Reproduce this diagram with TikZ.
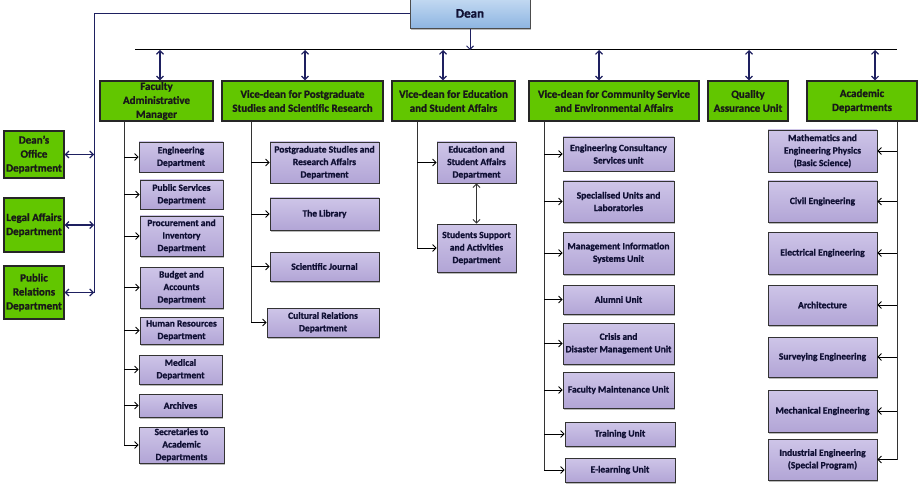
\documentclass[tikz,border=0pt]{standalone}
\usepackage{fontspec}
\setmainfont{Carlito}[BoldFeatures={FakeBold=1.2}]
\usetikzlibrary{arrows.meta,shadows}
\definecolor{gfill}{RGB}{98,198,0}
\definecolor{ptop}{RGB}{206,197,232}
\definecolor{pbot}{RGB}{178,165,214}
\definecolor{dtop}{RGB}{196,218,242}
\definecolor{dbot}{RGB}{140,180,225}
\definecolor{navy}{RGB}{30,32,96}
\definecolor{ntext}{RGB}{16,16,52}
\newcommand\bx[7]{\node[#6, minimum width={(#4-#2)*1pt}, minimum height={(#5-#3)*1pt}] (#1) at ({(#2+#4)/2},{(#3+#5)/2}) {#7};}
\begin{document}
\begin{tikzpicture}[x=1pt,y=-1pt,
  gbox/.style={draw=black!85, line width=1.4pt, fill=gfill, text=black!90, font=\bfseries\fontsize{11}{14}\selectfont, align=center, inner sep=0pt},
  pbox/.style={draw=black!80, line width=0.8pt, top color=ptop, bottom color=pbot, text=ntext, font=\bfseries\fontsize{9.5}{12.5}\selectfont, align=center, inner sep=0pt, drop shadow={shadow xshift=1.2pt, shadow yshift=-1.5pt, fill=black!45, opacity=0.6}},
  deanbox/.style={draw=black!70, line width=1pt, top color=dtop, bottom color=dbot, text=ntext, font=\bfseries\fontsize{13}{15}\selectfont, inner sep=0pt, drop shadow={shadow xshift=1.2pt, shadow yshift=-1.5pt, fill=black!45, opacity=0.6}},
  trunk/.style={draw=black!80, line width=0.9pt},
  carrow/.style={draw=black, line width=0.8pt, -{Straight Barb[length=3.5pt,width=7pt]}},
  dbl/.style={draw=navy, line width=1.1pt, {Straight Barb[length=3.5pt,width=7pt]}-{Straight Barb[length=3.5pt,width=7pt]}},
  navyline/.style={draw=navy, line width=0.9pt}]
\useasboundingbox (0,0) rectangle (919,484);
% Dean
\bx{dean}{410}{-2}{530}{29}{deanbox}{Dean}
% bus
\coordinate (busL) at (135,50);
\coordinate (busR) at (897,50);
\draw[line width=1pt] (busL) -- (busR);
\draw[draw=navy, line width=1pt, -{Straight Barb[length=3.5pt,width=7pt]}] (dean.south) -- (dean.south |- busL);
% left boxes
\bx{dof}{4}{131}{64}{178}{gbox}{Dean’s\\Office\\Department}
\bx{leg}{4}{198}{64}{252}{gbox}{\makebox[0pt]{Legal Affairs}\\Department}
\bx{pr}{4}{266}{64}{319}{gbox}{Public\\Relations\\Department}
\coordinate (lv) at (94,0);
\draw[navyline] (dean.west) -| (pr.east -| lv);
\draw[dbl] (dof.east) -- (dof.east -| lv);
\draw[dbl] (leg.east) -- (leg.east -| lv);
\draw[dbl] (pr.east) -- (pr.east -| lv);
% green top boxes
\bx{fam}{100}{81}{213}{121}{gbox}{Faculty\\Administrative\\Manager}
\bx{vpg}{222}{81}{383}{121}{gbox}{Vice-dean for Postgraduate\\Studies and Scientific Research}
\bx{ved}{392}{81}{515}{121}{gbox}{Vice-dean for Education\\and Student Affairs}
\bx{vcs}{529}{81}{699}{121}{gbox}{Vice-dean for Community Service\\and Environmental Affairs}
\bx{qau}{708}{81}{788}{121}{gbox}{Quality\\Assurance Unit}
\bx{acd}{807}{81}{917}{121}{gbox}{Academic\\Departments}
\draw[dbl] (160,50) -- (160,50 |- fam.north);
\draw[dbl] (305,50) -- (305,50 |- vpg.north);
\draw[dbl] (443,50) -- (443,50 |- ved.north);
\draw[dbl] (599,50) -- (599,50 |- vcs.north);
\draw[dbl] (749,50) -- (749,50 |- qau.north);
\draw[dbl] (875,50) -- (875,50 |- acd.north);
% Faculty administrative manager children
\bx{fa1}{139}{142}{223}{172}{pbox}{Engineering\\Department}
\bx{fa2}{140}{180}{223}{209}{pbox}{Public Services\\Department}
\bx{fa3}{140}{216}{223}{256}{pbox}{Procurement and\\Inventory\\Department}
\bx{fa4}{140}{267}{223}{308}{pbox}{Budget and\\Accounts\\Department}
\bx{fa5}{140}{317}{223}{344}{pbox}{Human Resources\\Department}
\bx{fa6}{139}{355}{222}{384}{pbox}{Medical\\Department}
\bx{fa7}{139}{394}{222}{417}{pbox}{Archives}
\bx{fa8}{139}{427}{224}{463}{pbox}{Secretaries to\\Academic\\Departments}
\coordinate (t1) at (124,0);
\draw[trunk] (fam.south -| t1) -- (t1 |- fa8.west);
\foreach \n in {fa1,fa2,fa3,fa4,fa5,fa6,fa7,fa8} \draw[carrow] (t1 |- \n.west) -- (\n.west);
% Postgraduate children
\bx{pg1}{270}{142}{379}{183}{pbox}{Postgraduate Studies and\\Research Affairs\\Department}
\bx{pg2}{270}{198}{379}{230}{pbox}{The Library}
\bx{pg3}{270}{252}{379}{281}{pbox}{Scientific Journal}
\bx{pg4}{267}{308}{379}{337}{pbox}{Cultural Relations\\Department}
\coordinate (t2) at (251,0);
\draw[trunk] (vpg.south -| t2) -- (t2 |- pg4.west);
\foreach \n in {pg1,pg2,pg3,pg4} \draw[carrow] (t2 |- \n.west) -- (\n.west);
% Education children
\bx{ed1}{437}{142}{516}{183}{pbox}{Education and\\Student Affairs\\Department}
\bx{ed2}{437}{224}{516}{272}{pbox}{Students Support\\and Activities\\Department}
\coordinate (t3) at (417,0);
\draw[trunk] (ved.south -| t3) -- (t3 |- ed2.west);
\foreach \n in {ed1,ed2} \draw[carrow] (t3 |- \n.west) -- (\n.west);
\draw[draw=black!80, line width=0.9pt, {Straight Barb[length=3.5pt,width=7pt]}-{Straight Barb[length=3.5pt,width=7pt]}] (ed1.south) -- (ed2.north);
% Community children
\bx{cs1}{563}{137}{674}{171}{pbox}{Engineering Consultancy\\Services unit}
\bx{cs2}{563}{181}{674}{222}{pbox}{Specialised Units and\\Laboratories}
\bx{cs3}{563}{232}{674}{274}{pbox}{Management Information\\Systems Unit}
\bx{cs4}{563}{285}{674}{314}{pbox}{Alumni Unit}
\bx{cs5}{563}{323}{674}{364}{pbox}{Crisis and\\\makebox[0pt]{Disaster Management Unit}}
\bx{cs6}{563}{372}{674}{408}{pbox}{Faculty Maintenance Unit}
\bx{cs7}{565}{422}{675}{446}{pbox}{Training Unit}
\bx{cs8}{565}{458}{675}{482}{pbox}{E-learning Unit}
\coordinate (t4) at (544,0);
\draw[trunk] (vcs.south -| t4) -- (t4 |- cs8.west);
\foreach \n in {cs1,cs2,cs3,cs4,cs5,cs6,cs7,cs8} \draw[carrow] (t4 |- \n.west) -- (\n.west);
% Academic children
\bx{ac1}{768}{130}{877}{172}{pbox}{Mathematics and\\Engineering Physics\\(Basic Science)}
\bx{ac2}{768}{181}{877}{222}{pbox}{Civil Engineering}
\bx{ac3}{768}{232}{877}{274}{pbox}{Electrical Engineering}
\bx{ac4}{768}{285}{877}{325}{pbox}{Architecture}
\bx{ac5}{768}{337}{877}{377}{pbox}{Surveying Engineering}
\bx{ac6}{768}{390}{877}{432}{pbox}{Mechanical Engineering}
\bx{ac7}{768}{439}{877}{480}{pbox}{Industrial Engineering\\(Special Program)}
\coordinate (t5) at (897,0);
\draw[trunk] (acd.south -| t5) -- (t5 |- ac7.east);
\foreach \n in {ac1,ac2,ac3,ac4,ac5,ac6,ac7} \draw[carrow] (t5 |- \n.east) -- (\n.east);
\end{tikzpicture}
\end{document}
